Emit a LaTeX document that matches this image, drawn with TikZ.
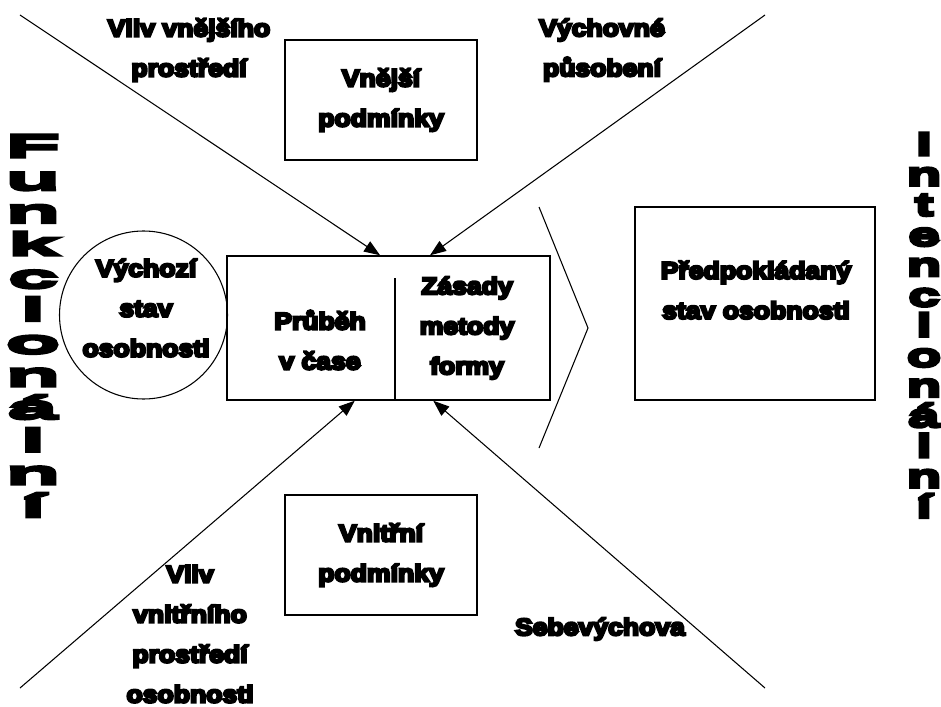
\documentclass[tikz,border=0pt]{standalone}
\usepackage{fontspec}
\usetikzlibrary{arrows.meta, calc}
\newfontfamily\heavy{Liberation Sans Bold}[FakeBold=10,FakeStretch=1.12]
\newfontfamily\wideheavy{Liberation Sans Bold}[FakeBold=10,FakeStretch=2.8]
\newfontfamily\narrowheavy{Liberation Sans Bold}[FakeBold=10,FakeStretch=1.75]

\begin{document}
\begin{tikzpicture}[x=0.75pt, y=-0.75pt,
    lab/.style={font=\heavy\fontsize{17.8}{30}\selectfont, align=center, inner sep=0pt},
    boxed/.style={draw, line width=1.1pt, inner sep=0pt},
    arr/.style={-{Triangle[length=12pt,width=9pt]}, line width=0.8pt},
    vleft/.style={font=\wideheavy\fontsize{24}{24}\selectfont, anchor=base, inner sep=0pt},
    vright/.style={font=\narrowheavy\fontsize{24}{24}\selectfont, anchor=base, inner sep=0pt}]
    \useasboundingbox (0,0) rectangle (941,706);
    % boxes
    \node[boxed, minimum width=192*0.75pt, minimum height=120*0.75pt, lab] (vnejsi) at (381,100) {Vnější\\podmínky};
    \node[boxed, minimum width=192*0.75pt, minimum height=120*0.75pt, lab] (vnitrni) at (381,555) {Vnitřní\\podmínky};
    \node[boxed, minimum width=323*0.75pt, minimum height=144*0.75pt] (proces) at (388.5,328) {};
    \node[boxed, minimum width=240*0.75pt, minimum height=193*0.75pt] (cil) at (755,303.5) {};
    \draw[line width=1.1pt] (395,278) -- (395,400);
    \draw[line width=0.8pt] (143.5,315) circle[radius=84];
    \draw[line width=0.8pt] (539,207) -- (588,328) -- (539,448);
    % texts
    \node[lab] (prubeh) at (320,340) {Průběh\\v čase};
    \node[lab] (zasady) at (467,328) {Zásady\\metody\\formy};
    \node[lab] (vychozi) at (146,308) {Výchozí\\stav\\osobnosti};
    \node[lab] (predpoklad) at (756,290) {Předpokládaný\\stav osobnosti};
    \node[lab] (vnejvliv) at (189,50) {Vliv vnějšího\\prostředí};
    \node[lab] (vychova) at (602,50) {Výchovné\\působení};
    \node[lab] (vnitvliv) at (190,634) {Vliv\\vnitřního\\prostředí\\osobnosti};
    \node[lab] (sebe) at (600,629) {Sebevýchova};
    % vertical words
    \foreach \ch [count=\i] in {F,u,n,k,c,i,o,n,á,l,n,í}
        \node[vleft] (f\i) at (33, {157+(\i-1)*32.7}) {\ch};
    \foreach \ch [count=\i] in {I,n,t,e,n,c,i,o,n,á,l,n,í}
        \node[vright] (i\i) at (924, {155+(\i-1)*30.2}) {\ch};
    % influences
    \coordinate (tl) at (20,15);
    \coordinate (tr) at (765,15);
    \coordinate (bl) at (20,688);
    \coordinate (br) at (765,688);
    \draw[arr] (tl) -- ($(proces.north west)!0.474!(proces.north east)$);
    \draw[arr] (tr) -- ($(proces.north west)!0.628!(proces.north east)$);
    \draw[arr] (bl) -- ($(proces.south west)!0.396!(proces.south east)$);
    \draw[arr] (br) -- ($(proces.south west)!0.638!(proces.south east)$);
\end{tikzpicture}
\end{document}
